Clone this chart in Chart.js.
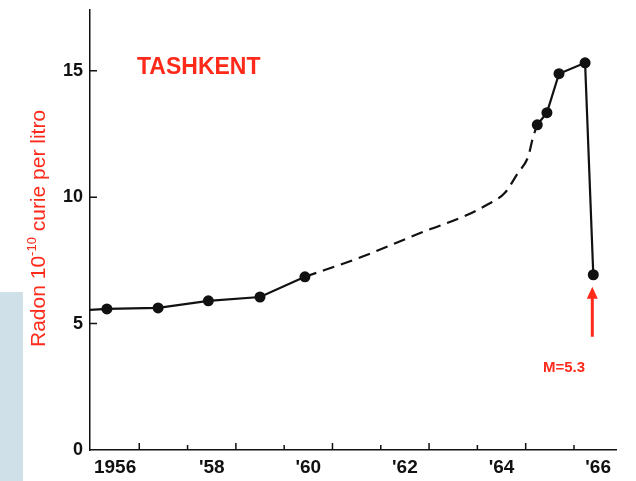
<!DOCTYPE html>
<html>
<head>
<meta charset="utf-8">
<script src="https://cdn.jsdelivr.net/npm/chart.js@4/dist/chart.umd.min.js"></script>
<style>
  html, body { margin: 0; padding: 0; background: #ffffff; }
  #wrap { width: 636px; height: 481px; position: relative; }
</style>
</head>
<body>
<div id="wrap"><canvas id="c" width="636" height="481"></canvas></div>
<script>
// Radon concentration in Tashkent ground water, 1956-1966 (10^-10 curie per litre)

// measured points before the gap (first entry is where the line meets the axis)
const earlyYears = [1955.48, 1955.83, 1956.89, 1957.93, 1959.00, 1959.93];
const earlyRadon = [5.54, 5.58, 5.62, 5.90, 6.05, 6.85];

// trend drawn as a dashed curve between 1960 and mid-1964
const gapYears = [1959.93, 1961.11, 1962.38, 1963.25, 1963.70, 1964.07, 1964.34, 1964.55, 1964.65, 1964.74];
const gapRadon = [6.85, 7.64, 8.63, 9.26, 9.70, 10.17, 10.96, 11.59, 12.35, 12.86];

// measured points leading up to the 1966 earthquake
const lateYears = [1964.74, 1964.94, 1965.19, 1965.73, 1965.90];
const lateRadon = [12.86, 13.34, 14.88, 15.31, 6.93];

const yTicks = [0, 5, 10, 15];
const labelYears = [1956, 1958, 1960, 1962, 1964, 1966];
const xRange = [1955.48, 1966.37];
const yRange = [0, 17.4];

const title = 'TASHKENT';
const quakeLabel = 'M=5.3';
const RED = '#ff2a1a';

const zip = (xs, ys) => xs.map((x, i) => ({ x: x, y: ys[i] }));

const decor = {
  id: 'decor',
  beforeDraw(chart) {
    const ctx = chart.ctx;
    ctx.save();
    ctx.fillStyle = '#ffffff';
    ctx.fillRect(0, 0, chart.width, chart.height);
    ctx.fillStyle = '#d0e0e8';
    ctx.fillRect(0, 292, 23, chart.height - 292);
    ctx.restore();
  },
  afterDraw(chart) {
    const ctx = chart.ctx;
    const xs = chart.scales.x, ys = chart.scales.y;
    const x0 = xs.left, y0 = ys.bottom;
    ctx.save();

    // inward tick marks
    ctx.strokeStyle = '#111';
    ctx.lineWidth = 1.5;
    ctx.beginPath();
    for (let yr = Math.ceil(xRange[0]) + 0.5, k = 0; yr < xRange[1]; yr += 1, k++) {
      const px = xs.getPixelForValue(yr);
      const len = (k % 2 === 0) ? 7 : 5;
      ctx.moveTo(px, y0);
      ctx.lineTo(px, y0 - len);
    }
    yTicks.forEach(v => {
      if (v === 0) return;
      const py = ys.getPixelForValue(v);
      ctx.moveTo(x0, py);
      ctx.lineTo(x0 + 7, py);
    });
    ctx.stroke();

    // city name
    ctx.fillStyle = RED;
    ctx.font = 'bold 23px "Liberation Sans", Arial, sans-serif';
    ctx.textAlign = 'left';
    ctx.textBaseline = 'alphabetic';
    ctx.fillText(title, 137, 74);

    // rotated axis title with superscript exponent
    ctx.save();
    ctx.translate(45, 347);
    ctx.rotate(-Math.PI / 2);
    ctx.textAlign = 'left';
    ctx.textBaseline = 'alphabetic';
    ctx.font = '21px "Liberation Sans", Arial, sans-serif';
    let pos = 0;
    const part1 = 'Radon 10';
    ctx.fillText(part1, pos, 0);
    pos += ctx.measureText(part1).width;
    ctx.font = '13px "Liberation Sans", Arial, sans-serif';
    const sup = '-10';
    ctx.fillText(sup, pos, -9);
    pos += ctx.measureText(sup).width;
    ctx.font = '21px "Liberation Sans", Arial, sans-serif';
    ctx.fillText(' curie per litro', pos, 0);
    ctx.restore();

    // arrow marking the earthquake
    const last = lateYears.length - 1;
    const ax = xs.getPixelForValue(lateYears[last]) - 1;
    const tip = ys.getPixelForValue(lateRadon[last]) + 12;
    ctx.strokeStyle = RED;
    ctx.fillStyle = RED;
    ctx.lineWidth = 3;
    ctx.beginPath();
    ctx.moveTo(ax, tip + 50);
    ctx.lineTo(ax, tip + 10);
    ctx.stroke();
    ctx.beginPath();
    ctx.moveTo(ax, tip);
    ctx.lineTo(ax - 5.5, tip + 12);
    ctx.lineTo(ax + 5.5, tip + 12);
    ctx.closePath();
    ctx.fill();

    ctx.font = 'bold 15px "Liberation Sans", Arial, sans-serif';
    ctx.textAlign = 'center';
    ctx.textBaseline = 'middle';
    ctx.fillText(quakeLabel, 564, 368);

    ctx.restore();
  }
};

const lineStyle = {
  borderColor: '#111',
  borderWidth: 2.2,
  pointBackgroundColor: '#111',
  pointBorderColor: '#111',
  pointBorderWidth: 0,
  pointHoverRadius: 5,
  tension: 0,
  clip: false,
  fill: false
};

new Chart(document.getElementById('c'), {
  type: 'line',
  data: {
    datasets: [
      Object.assign({}, lineStyle, {
        data: zip(earlyYears, earlyRadon),
        pointRadius: ctx => ctx.dataIndex === 0 ? 0 : 5.5
      }),
      Object.assign({}, lineStyle, {
        data: zip(gapYears, gapRadon),
        borderDash: [12, 7],
        cubicInterpolationMode: 'monotone',
        pointRadius: 0
      }),
      Object.assign({}, lineStyle, {
        data: zip(lateYears, lateRadon),
        pointRadius: 5.5
      })
    ]
  },
  options: {
    responsive: false,
    animation: false,
    events: [],
    layout: { padding: { left: 0, top: 10, right: 20, bottom: 0 } },
    plugins: {
      legend: { display: false },
      tooltip: { enabled: false },
      title: { display: false }
    },
    scales: {
      x: {
        type: 'linear',
        min: xRange[0],
        max: xRange[1],
        afterFit: s => { s.height = 31; s.paddingLeft = 0; s.paddingRight = 0; },
        grid: { display: false, drawTicks: false },
        border: { display: true, color: '#111', width: 1.5 },
        ticks: {
          stepSize: 1,
          includeBounds: false,
          autoSkip: false,
          maxRotation: 0,
          padding: 6,
          color: '#111',
          font: { family: '"Liberation Sans", Arial, sans-serif', size: 19, weight: 'bold' },
          callback: v => {
            if (!labelYears.includes(v)) return '';
            return v === labelYears[0] ? String(v) : "'" + String(v).slice(2);
          }
        }
      },
      y: {
        min: yRange[0],
        max: yRange[1],
        afterFit: s => { s.width = 90; s.paddingTop = 0; s.paddingBottom = 0; },
        grid: { display: false, drawTicks: false },
        border: { display: true, color: '#111', width: 1.5 },
        afterBuildTicks: s => { s.ticks = yTicks.map(v => ({ value: v })); },
        ticks: {
          padding: 7,
          color: '#111',
          font: { family: '"Liberation Sans", Arial, sans-serif', size: 18, weight: 'bold' },
          callback: v => String(v)
        }
      }
    }
  },
  plugins: [decor]
});
</script>
</body>
</html>
